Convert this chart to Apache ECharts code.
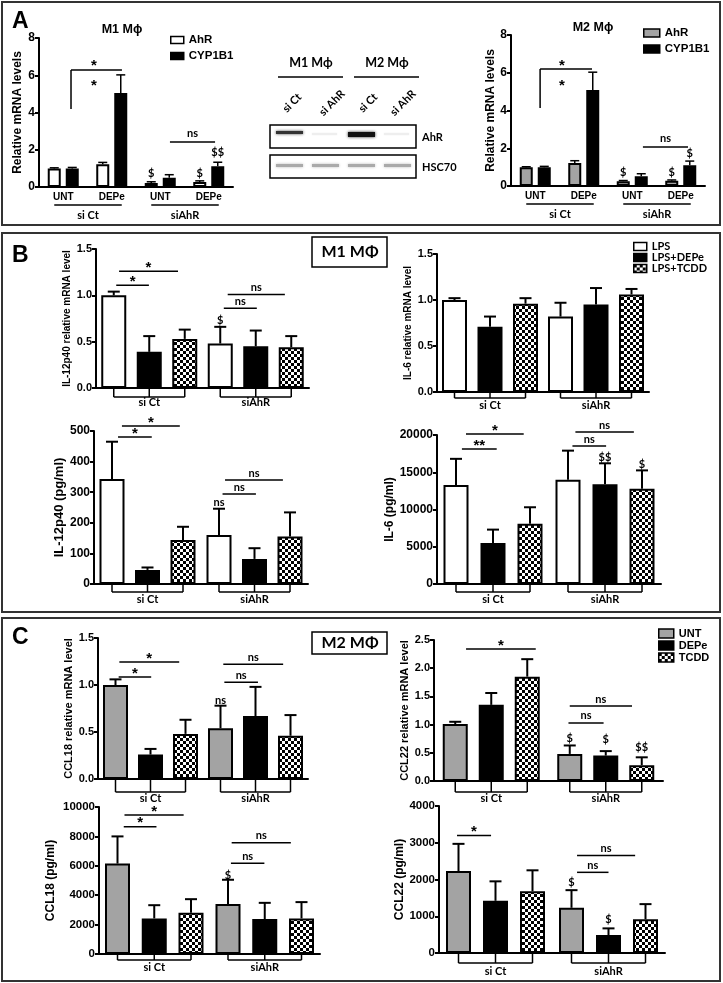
<!DOCTYPE html>
<html><head><meta charset="utf-8">
<script src="https://cdn.jsdelivr.net/npm/echarts@6/dist/echarts.min.js"></script>
<style>html,body{margin:0;padding:0;background:#fff}#c{width:723px;height:983px}</style>
</head><body><div id="c"></div>
<script>
// ---------------- Panel A data ----------------
const aCategories = ['UNT', 'DEPe', 'UNT', 'DEPe'];
const aGroups = ['si Ct', 'siAhR'];
const aSeriesNames = ['AhR', 'CYP1B1'];
const aTicks = [0, 2, 4, 6, 8];
const m1AhR = [1.0, 1.22, 0.22, 0.27];
const m1AhRErr = [1.03, 1.32, 0.28, 0.33];
const m1CYP1B1 = [1.0, 5.05, 0.5, 1.12];
const m1CYP1B1Err = [1.05, 6.02, 0.66, 1.33];
const m2AhR = [1.0, 1.22, 0.25, 0.28];
const m2AhRErr = [1.02, 1.34, 0.29, 0.32];
const m2CYP1B1 = [1.0, 5.08, 0.52, 1.1];
const m2CYP1B1Err = [1.04, 6.03, 0.65, 1.32];
// brackets: [x1, x2, y, legBottom]; ns lines: [x1, x2, y, text]; marks: [cat, side, y, text]
const m1Brackets = [[0.16, 1.21, 6.28, 4.19]];
const m1NsLines = [[2.2, 3.13, 2.42, 'ns']];
const m1Marks = [[0.63, 0, 6.71, '*'], [0.63, 0, 5.64, '*'], [2, -1, 0.75, '$'], [3, -1, 0.75, '$'], [3, 1, 1.83, '$$']];
const m2Brackets = [[0.1, 1.17, 6.2, 4.13]];
const m2NsLines = [[2.22, 3.15, 2.07, 'ns']];
const m2Marks = [[0.55, 0, 6.57, '*'], [0.55, 0, 5.51, '*'], [2, -1, 0.74, '$'], [3, -1, 0.74, '$'], [3, 1, 1.75, '$']];

// ---------------- Panel B data (rows = LPS, LPS+DEPe, LPS+TCDD; cols = si Ct, siAhR) ----------------
const bGroups = ['si Ct', 'siAhR'];
const bTreatments = ['LPS', 'LPS+DEPe', 'LPS+TCDD'];
const il12mRNATicks = [0, 0.5, 1.0, 1.5];
const il12mRNAMean = [[1.0, 0.48], [0.39, 0.45], [0.53, 0.44]];
const il12mRNAErr = [[1.04, 0.66], [0.56, 0.62], [0.63, 0.56]];
const il12mRNABrackets = [[0.15, 1.81, 1.26, '*'], [0.07, 0.99, 1.11, '*'], [3.21, 4.82, 1.01, 'ns'], [3.1, 4.03, 0.86, 'ns']];
const il12mRNAMarks = [[3, 0.73, '$']];
const il6mRNATicks = [0, 0.5, 1.0, 1.5];
const il6mRNAMean = [[1.0, 0.82], [0.71, 0.95], [0.96, 1.06]];
const il6mRNAErr = [[1.02, 0.97], [0.82, 1.13], [1.02, 1.12]];
const il6mRNABrackets = [];
const il6mRNAMarks = [];
const il12ProtTicks = [0, 100, 200, 300, 400, 500];
const il12ProtMean = [[343, 160], [46, 82], [144, 155]];
const il12ProtErr = [[465, 246], [54, 117], [187, 234]];
const il12ProtBrackets = [[0.28, 1.91, 516, '*'], [0.17, 1.12, 480, '*'], [3.17, 4.8, 340, 'ns'], [3.1, 4.04, 294, 'ns']];
const il12ProtMarks = [[3, 268, 'ns']];
const il6ProtTicks = [0, 5000, 10000, 15000, 20000];
const il6ProtMean = [[13300, 14000], [5500, 13400], [8100, 12800]];
const il6ProtErr = [[16800, 17900], [7300, 16200], [10300, 15250]];
const il6ProtBrackets = [[0.27, 1.83, 20130, '*'], [0.16, 1.1, 18120, '**'], [3.2, 4.78, 20400, 'ns'], [3.12, 4.03, 18520, 'ns']];
const il6ProtMarks = [[4, 17050, '$$'], [5, 16100, '$']];

// ---------------- Panel C data (rows = UNT, DEPe, TCDD) ----------------
const cTreatments = ['UNT', 'DEPe', 'TCDD'];
const ccl18mRNATicks = [0, 0.5, 1.0, 1.5];
const ccl18mRNAMean = [[1.0, 0.54], [0.26, 0.67], [0.48, 0.46]];
const ccl18mRNAErr = [[1.06, 0.78], [0.32, 0.98], [0.63, 0.68]];
const ccl18mRNABrackets = [[0.11, 1.82, 1.245, '*'], [0.09, 1.02, 1.085, '*'], [3.08, 4.79, 1.22, 'ns'], [3.11, 4.07, 1.03, 'ns']];
const ccl18mRNAMarks = [[3, 0.84, 'ns']];
const ccl22mRNATicks = [0, 0.5, 1.0, 1.5, 2.0, 2.5];
const ccl22mRNAMean = [[1.01, 0.48], [1.35, 0.45], [1.85, 0.28]];
const ccl22mRNAErr = [[1.05, 0.63], [1.56, 0.53], [2.16, 0.42]];
const ccl22mRNABrackets = [[0.3, 2.2, 2.34, '*'], [3.0, 4.73, 1.33, 'ns'], [2.97, 3.94, 1.03, 'ns']];
const ccl22mRNAMarks = [[3, 0.76, '$'], [4, 0.73, '$'], [5, 0.59, '$$']];
const ccl18ProtTicks = [0, 2000, 4000, 6000, 8000, 10000];
const ccl18ProtMean = [[6150, 3400], [2420, 2380], [2800, 2420]];
const ccl18ProtErr = [[8000, 5050], [3320, 3480], [3730, 3530]];
const ccl18ProtBrackets = [[0.19, 1.8, 9455, '*'], [0.17, 1.06, 8660, '*'], [3.1, 4.71, 7570, 'ns'], [3.08, 3.99, 6170, 'ns']];
const ccl18ProtMarks = [[3, 5370, '$']];
const ccl22ProtTicks = [0, 1000, 2000, 3000, 4000];
const ccl22ProtMean = [[2230, 1230], [1420, 490], [1680, 920]];
const ccl22ProtErr = [[2970, 1710], [1950, 670], [2250, 1330]];
const ccl22ProtBrackets = [[-0.04, 0.88, 3198, '*'], [3.15, 4.72, 2656, 'ns'], [3.15, 4.0, 2195, 'ns']];
const ccl22ProtMarks = [[3, 1924, '$'], [4, 921, '$']];

// ---------------- styling / layout ----------------
const ARIAL = '"Liberation Sans", Arial, sans-serif';
const CAL = 'Lato, "Open Sans", sans-serif';
function makeChecker() {
  const c = document.createElement('canvas'); c.width = 6; c.height = 6;
  const g = c.getContext('2d');
  g.fillStyle = '#fff'; g.fillRect(0, 0, 6, 6);
  g.fillStyle = '#000'; g.fillRect(0, 0, 3, 3); g.fillRect(3, 3, 3, 3);
  return c;
}
const CHECK = { image: makeChecker(), repeat: 'repeat' };
const GRAY = '#a3a3a3';
const bFills = ['#fff', '#000', CHECK];
const cFills = [GRAY, '#000', CHECK];

const aSpecs = [
  { grid: { left: 39, top: 38, width: 194, height: 149 }, s: [[m1AhR, m1AhRErr, '#fff', 'AhR'], [m1CYP1B1, m1CYP1B1Err, '#000', 'CYP1B1']],
    title: 'M1 Mϕ', titleX: 122, titleY: 30, nameGap: 15, brackets: m1Brackets, ns: m1NsLines, marks: m1Marks },
  { grid: { left: 511, top: 35, width: 194, height: 151 }, s: [[m2AhR, m2AhRErr, GRAY, 'AhR (M2)'], [m2CYP1B1, m2CYP1B1Err, '#000', 'CYP1B1 (M2)']],
    title: 'M2 Mϕ', titleX: 593, titleY: 28, nameGap: 14, brackets: m2Brackets, ns: m2NsLines, marks: m2Marks }
];
const bcSpecs = [
  { grid: { left: 96, top: 249, width: 213, height: 139 }, ticks: il12mRNATicks, dec: 1, mean: il12mRNAMean, err: il12mRNAErr, names: bTreatments, fills: bFills, groups: bGroups,
    yName: 'IL-12p40 relative mRNA level', nameSize: 10, nameGap: 24, tickSize: 11, gap: 0.42, lineOff: 9, labelMargin: 9, brackets: il12mRNABrackets, marks: il12mRNAMarks },
  { grid: { left: 437, top: 254, width: 212, height: 138 }, ticks: il6mRNATicks, dec: 1, mean: il6mRNAMean, err: il6mRNAErr, names: bTreatments, fills: bFills, groups: bGroups,
    yName: 'IL-6 relative mRNA level', nameSize: 10, nameGap: 24, tickSize: 11, gap: 0.42, lineOff: 6, labelMargin: 8, brackets: il6mRNABrackets, marks: il6mRNAMarks },
  { grid: { left: 94, top: 431, width: 214, height: 153 }, ticks: il12ProtTicks, dec: 0, mean: il12ProtMean, err: il12ProtErr, names: bTreatments, fills: bFills, groups: bGroups,
    yName: 'IL-12p40 (pg/ml)', nameSize: 13, nameGap: 26, tickSize: 12, gap: 0.42, lineOff: 8, labelMargin: 10, brackets: il12ProtBrackets, marks: il12ProtMarks },
  { grid: { left: 437, top: 435, width: 224, height: 149 }, ticks: il6ProtTicks, dec: 0, mean: il6ProtMean, err: il6ProtErr, names: bTreatments, fills: bFills, groups: bGroups,
    yName: 'IL-6 (pg/ml)', nameSize: 12, nameGap: 38, tickSize: 12, gap: 0.48, lineOff: 8, labelMargin: 10, brackets: il6ProtBrackets, marks: il6ProtMarks },
  { grid: { left: 98, top: 638, width: 210, height: 141 }, ticks: ccl18mRNATicks, dec: 1, mean: ccl18mRNAMean, err: ccl18mRNAErr, names: cTreatments, fills: cFills, groups: bGroups,
    yName: 'CCL18 relative mRNA level', nameSize: 11, nameGap: 24, tickSize: 11, gap: 0.40, lineOff: 13, labelMargin: 14, brackets: ccl18mRNABrackets, marks: ccl18mRNAMarks },
  { grid: { left: 434, top: 640, width: 229, height: 141 }, ticks: ccl22mRNATicks, dec: 1, mean: ccl22mRNAMean, err: ccl22mRNAErr, names: cTreatments, fills: cFills, groups: bGroups,
    yName: 'CCL22 relative mRNA level', nameSize: 11, nameGap: 16, tickSize: 11, gap: 0.44, lineOff: 11, labelMargin: 12, brackets: ccl22mRNABrackets, marks: ccl22mRNAMarks },
  { grid: { left: 99, top: 807, width: 221, height: 147 }, ticks: ccl18ProtTicks, dec: 0, mean: ccl18ProtMean, err: ccl18ProtErr, names: cTreatments, fills: cFills, groups: bGroups,
    yName: 'CCL18 (pg/ml)', nameSize: 12, nameGap: 42, tickSize: 11.5, gap: 0.47, lineOff: 6, labelMargin: 8, brackets: ccl18ProtBrackets, marks: ccl18ProtMarks },
  { grid: { left: 439, top: 806, width: 226, height: 147 }, ticks: ccl22ProtTicks, dec: 0, mean: ccl22ProtMean, err: ccl22ProtErr, names: cTreatments, fills: cFills, groups: bGroups,
    yName: 'CCL22 (pg/ml)', nameSize: 12, nameGap: 31, tickSize: 11.5, gap: 0.48, lineOff: 10, labelMargin: 13, brackets: ccl22ProtBrackets, marks: ccl22ProtMarks }
];

const A_BW = 13, A_GAP = 5 / 13, BW = 25;

function errRender(offset, cap, lw) {
  return function (params, api) {
    const top = api.coord([api.value(0), api.value(2)]);
    const base = api.coord([api.value(0), api.value(1)]);
    const x = top[0] + offset;
    return { type: 'group', children: [
      { type: 'line', shape: { x1: x, y1: base[1], x2: x, y2: top[1] }, style: { stroke: '#000', lineWidth: lw } },
      { type: 'line', shape: { x1: x - cap / 2, y1: top[1], x2: x + cap / 2, y2: top[1] }, style: { stroke: '#000', lineWidth: lw } }
    ] };
  };
}

function yAxisCfg(gi, ticks, dec, name, nameSize, nameGap, tickSize) {
  return {
    type: 'value', gridIndex: gi, min: ticks[0], max: ticks[ticks.length - 1], interval: ticks[1] - ticks[0],
    axisLine: { show: true, lineStyle: { color: '#000', width: 2 } },
    axisTick: { show: true, length: 4, lineStyle: { color: '#000', width: 2 } },
    splitLine: { show: false },
    axisLabel: { color: '#000', fontFamily: ARIAL, fontWeight: 'bold', fontSize: tickSize, margin: 4, formatter: v => v.toFixed(dec) },
    name: name, nameLocation: 'middle', nameGap: nameGap, nameRotate: 90,
    nameTextStyle: { color: '#000', fontFamily: ARIAL, fontWeight: 'bold', fontSize: nameSize }
  };
}

const grids = [], xAxes = [], yAxes = [], series = [];
aSpecs.forEach((sp, i) => {
  grids.push(sp.grid);
  xAxes.push({ type: 'category', gridIndex: i, data: aCategories,
    axisLine: { lineStyle: { color: '#000', width: 2 } }, axisTick: { show: false },
    axisLabel: { interval: 0, margin: 5, color: '#000', fontFamily: ARIAL, fontWeight: 'bold', fontSize: 10 } });
  yAxes.push(yAxisCfg(i, aTicks, 0, 'Relative mRNA levels', 12, sp.nameGap, 12));
  sp.s.forEach((s, k) => {
    series.push({ type: 'bar', name: s[3], xAxisIndex: i, yAxisIndex: i, data: s[0], barWidth: A_BW, barGap: (A_GAP * 100) + '%',
      itemStyle: { color: s[2], borderColor: '#000', borderWidth: 2 }, silent: true });
  });
  sp.s.forEach((s, k) => {
    const off = (k - 0.5) * A_BW * (1 + A_GAP);
    series.push({ type: 'custom', xAxisIndex: i, yAxisIndex: i, z: 5, silent: true,
      data: s[0].map((v, j) => [j, v, s[1][j]]), renderItem: errRender(off, 9, 1.5) });
  });
});
bcSpecs.forEach((sp, n) => {
  const i = n + 2;
  grids.push(sp.grid);
  xAxes.push({ type: 'category', gridIndex: i, data: sp.groups,
    axisLine: { lineStyle: { color: '#000', width: 2 } }, axisTick: { show: false },
    axisLabel: { interval: 0, margin: sp.labelMargin, color: '#000', fontFamily: CAL, fontWeight: 'bold', fontSize: 11 } });
  yAxes.push(yAxisCfg(i, sp.ticks, sp.dec, sp.yName, sp.nameSize, sp.nameGap, sp.tickSize));
  sp.names.forEach((nm, k) => {
    series.push({ type: 'bar', name: nm, xAxisIndex: i, yAxisIndex: i, data: sp.mean[k], barWidth: BW, barGap: (sp.gap * 100) + '%',
      itemStyle: { color: sp.fills[k], borderColor: '#000', borderWidth: 2 }, silent: true });
  });
  sp.names.forEach((nm, k) => {
    const off = (k - 1) * BW * (1 + sp.gap);
    series.push({ type: 'custom', xAxisIndex: i, yAxisIndex: i, z: 5, silent: true,
      data: sp.mean[k].map((v, j) => [j, v, sp.err[k][j]]), renderItem: errRender(off, 12, 2) });
  });
});

const legendText = (size, fam) => ({ color: '#000', fontFamily: fam, fontWeight: 'bold', fontSize: size });
const legends = [
  { left: 170, top: 34, orient: 'vertical', padding: 0, itemWidth: 13, itemHeight: 7, itemGap: 4, icon: 'rect', selectedMode: false,
    data: ['AhR', 'CYP1B1'], textStyle: legendText(11.5, ARIAL), itemStyle: { borderColor: '#000', borderWidth: 1.5 } },
  { left: 643, top: 27, orient: 'vertical', padding: 0, itemWidth: 16, itemHeight: 8, itemGap: 4, icon: 'rect', selectedMode: false,
    data: ['AhR (M2)', 'CYP1B1 (M2)'], formatter: nm => nm.replace(' (M2)', ''), textStyle: legendText(11.5, ARIAL), itemStyle: { borderColor: '#000', borderWidth: 1.5 } },
  { left: 633, top: 241, orient: 'vertical', padding: 0, itemWidth: 13, itemHeight: 8, itemGap: 0, icon: 'rect', selectedMode: false,
    data: bTreatments, textStyle: legendText(11, CAL), itemStyle: { borderColor: '#000', borderWidth: 1.5 } },
  { left: 658, top: 628, orient: 'vertical', padding: 0, itemWidth: 15, itemHeight: 9, itemGap: 1, icon: 'rect', selectedMode: false,
    data: cTreatments, textStyle: legendText(11, ARIAL), itemStyle: { borderColor: '#000', borderWidth: 1.5 } }
];

const chart = echarts.init(document.getElementById('c'));
chart.setOption({ animation: false, backgroundColor: '#fff', grid: grids, xAxis: xAxes, yAxis: yAxes, series: series, legend: legends });

// ---------------- annotations via axis conversion ----------------
const G = [];
function line(x1, y1, x2, y2, lw, col) { G.push({ type: 'line', silent: true, shape: { x1, y1, x2, y2 }, style: { stroke: col || '#000', lineWidth: lw || 1.5 } }); }
function text(x, y, t, font, align, vAlign, extra) {
  G.push(Object.assign({ type: 'text', silent: true, x: x, y: y, style: { text: t, font: font, fill: '#000', align: align || 'center', verticalAlign: vAlign || 'middle', textAlign: align || 'center', textVerticalAlign: vAlign || 'middle' } }, extra || {}));
}
function rect(x, y, w, h, fill, stroke, lw, extraStyle) {
  G.push({ type: 'rect', silent: true, shape: { x, y, width: w, height: h }, style: Object.assign({ fill: fill, stroke: stroke, lineWidth: lw || 0 }, extraStyle || {}) });
}
function sigText(x, yCenter, t) {
  if (t.indexOf('*') >= 0) text(x, yCenter + 3.5, t, 'bold 15px ' + ARIAL);
  else text(x, yCenter, t, 'bold 11px ' + CAL);
}
const catPx = (gi, c) => chart.convertToPixel({ xAxisIndex: gi }, c);
const valPx = (gi, v) => chart.convertToPixel({ yAxisIndex: gi }, v);
function catInterp(gi, c) {
  let a = Math.floor(c); a = Math.max(0, Math.min(2, a));
  const xa = catPx(gi, a), xb = catPx(gi, a + 1);
  return xa + (c - a) * (xb - xa);
}

// Panel A
aSpecs.forEach((sp, i) => {
  const off = A_BW * (1 + A_GAP) / 2;
  const axisY = valPx(i, 0);
  text(sp.titleX, sp.titleY, sp.title, 'bold 12.5px ' + ARIAL);
  sp.brackets.forEach(b => {
    const x1 = catInterp(i, b[0]), x2 = catInterp(i, b[1]), y = valPx(i, b[2]);
    line(x1, y, x2, y, 1.5); line(x1, y, x1, valPx(i, b[3]), 1.5);
  });
  sp.ns.forEach(b => {
    const x1 = catInterp(i, b[0]), x2 = catInterp(i, b[1]), y = valPx(i, b[2]);
    line(x1, y, x2, y, 1.5); sigText((x1 + x2) / 2, y - 8, b[3]);
  });
  sp.marks.forEach(m => sigText(catInterp(i, m[0]) + m[1] * off, valPx(i, m[2]), m[3]));
  aGroups.forEach((g, gi) => {
    const xa = catPx(i, gi * 2) - 9, xb = catPx(i, gi * 2 + 1) + 10;
    line(xa, axisY + 18, xb, axisY + 18, 1.5);
    text((xa + xb) / 2, axisY + 28, g, 'bold 11px ' + CAL);
  });
});

// Panels B, C
bcSpecs.forEach((sp, n) => {
  const i = n + 2;
  const sp2 = BW * (1 + sp.gap);
  const barC = b => catPx(i, Math.floor(b / 3)) + ((b % 3) - 1) * sp2;
  const px = p => { let a = Math.floor(p); a = Math.max(0, Math.min(4, a)); const xa = barC(a), xb = barC(a + 1); return xa + (p - a) * (xb - xa); };
  const axisY = valPx(i, 0);
  for (let g = 0; g < 2; g++) {
    for (let k = 0; k < 3; k++) { const x = barC(g * 3 + k); line(x, axisY, x, axisY + sp.lineOff, 1.5); }
    line(barC(g * 3), axisY + sp.lineOff, barC(g * 3 + 2), axisY + sp.lineOff, 1.5);
  }
  sp.brackets.forEach(b => {
    const x1 = px(b[0]), x2 = px(b[1]), y = valPx(i, b[2]);
    line(x1, y, x2, y, 1.5); sigText((x1 + x2) / 2, y - 7, b[3]);
  });
  sp.marks.forEach(m => sigText(barC(m[0]), valPx(i, m[1]), m[2]));
});

// Panel frames, letters, headers
rect(2, 2, 718, 223, 'none', '#333', 2);
rect(2, 233, 718, 379, 'none', '#333', 2);
rect(2, 618, 718, 363, 'none', '#333', 2);
text(12, 22, 'A', 'bold 23px ' + ARIAL, 'left');
text(12, 256, 'B', 'bold 23px ' + ARIAL, 'left');
text(12, 638, 'C', 'bold 23px ' + ARIAL, 'left');
rect(312, 237, 75, 30, '#fff', '#000', 1.5);
text(350, 252, 'M1 MΦ', 'bold 16px ' + CAL);
rect(312, 632, 75, 22, '#fff', '#000', 1.5);
text(350, 643, 'M2 MΦ', 'bold 16px ' + CAL);

// Western blot
text(311, 63, 'M1 Mϕ', 'bold 12.5px ' + CAL);
text(387, 63, 'M2 Mϕ', 'bold 12.5px ' + CAL);
line(278, 77, 343, 77, 1.5); line(354, 77, 419, 77, 1.5);
[[292, 'si Ct'], [332, 'si AhR'], [368, 'si Ct'], [403, 'si AhR']].forEach(l => text(l[0], 103, l[1], 'bold 11px ' + CAL, 'center', 'middle', { rotation: Math.PI / 4 }));
rect(270, 125, 146, 23, '#fff', '#000', 1.5);
rect(276, 131, 27, 3, '#333', null, 0, { shadowBlur: 3, shadowColor: '#444' });
rect(348, 132, 27, 5, '#111', null, 0, { shadowBlur: 3, shadowColor: '#222' });
rect(312, 133, 25, 2, '#eee', null, 0, { shadowBlur: 2, shadowColor: '#eee' });
rect(384, 133, 25, 2, '#eee', null, 0, { shadowBlur: 2, shadowColor: '#eee' });
text(422, 137, 'AhR', 'bold 11px ' + CAL, 'left');
rect(270, 155, 146, 23, '#fff', '#000', 1.5);
[276, 312, 348, 384].forEach(x => rect(x, 164, 27, 3, '#aaa', null, 0, { shadowBlur: 3, shadowColor: '#bbb' }));
text(422, 167, 'HSC70', 'bold 11px ' + CAL, 'left');

chart.setOption({ graphic: G });
</script></body></html>
